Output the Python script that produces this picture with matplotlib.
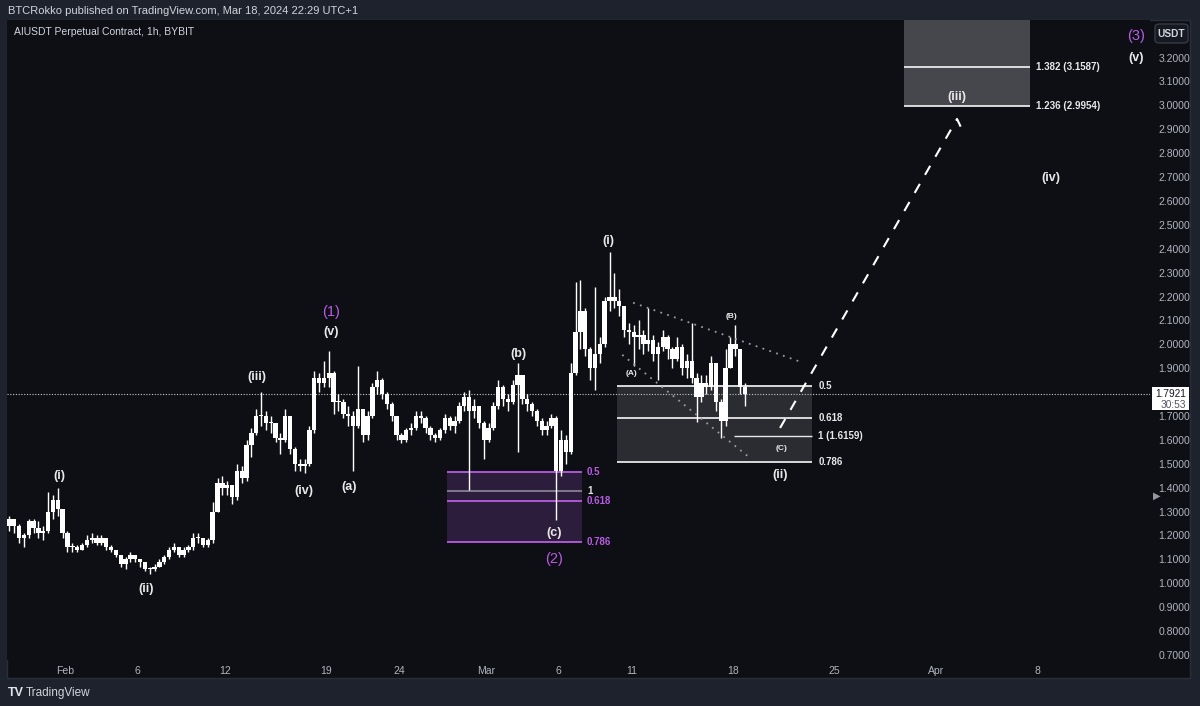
import numpy as np
import pandas as pd
import matplotlib
matplotlib.use("Agg")
import matplotlib.pyplot as plt
from matplotlib.patches import Rectangle, FancyBboxPatch

plt.rcParams['font.family'] = ['Liberation Sans', 'DejaVu Sans']

first_open = 1.24
closes = [1.27, 1.24, 1.19, 1.20, 1.26, 1.23, 1.21, 1.22, 1.30, 1.35,
          1.31, 1.21, 1.15, 1.15, 1.14, 1.16, 1.18, 1.19, 1.17, 1.19,
          1.15, 1.14, 1.12, 1.08, 1.10, 1.12, 1.10, 1.09, 1.06, 1.06,
          1.07, 1.09, 1.11, 1.14, 1.15, 1.12, 1.14, 1.15, 1.19, 1.19,
          1.16, 1.18, 1.30, 1.42, 1.40, 1.41, 1.36, 1.47, 1.44, 1.58,
          1.63, 1.70, 1.70, 1.67, 1.67, 1.61, 1.60, 1.70, 1.56, 1.50,
          1.49, 1.50, 1.64, 1.86, 1.84, 1.86, 1.88, 1.76, 1.76, 1.71,
          1.70, 1.66, 1.73, 1.62, 1.70, 1.82, 1.85, 1.79, 1.75, 1.70,
          1.62, 1.60, 1.64, 1.65, 1.70, 1.69, 1.65, 1.62, 1.61, 1.64,
          1.69, 1.66, 1.68, 1.74, 1.78, 1.72, 1.74, 1.67, 1.60, 1.65,
          1.74, 1.82, 1.77, 1.76, 1.83, 1.87, 1.77, 1.75, 1.72, 1.68,
          1.64, 1.66, 1.69, 1.47, 1.60, 1.55, 1.88, 2.05, 2.14, 1.98,
          1.90, 1.96, 2.00, 2.18, 2.20, 2.18, 2.16, 2.06, 2.05, 2.03,
          2.04, 2.00, 2.02, 1.96, 1.99, 2.03, 1.98, 1.94, 1.99, 1.90,
          1.93, 1.86, 1.78, 1.84, 1.82, 1.92, 1.76, 1.68, 1.90, 2.00,
          1.98, 1.82, 1.7921]
highs = [1.28, 1.27, 1.25, 1.21, 1.27, 1.27, 1.26, 1.24, 1.38, 1.37,
         1.40, 1.31, 1.22, 1.17, 1.16, 1.17, 1.20, 1.21, 1.20, 1.20,
         1.19, 1.16, 1.14, 1.12, 1.11, 1.13, 1.12, 1.10, 1.09, 1.07,
         1.08, 1.10, 1.12, 1.15, 1.17, 1.15, 1.15, 1.16, 1.21, 1.21,
         1.19, 1.19, 1.34, 1.44, 1.45, 1.43, 1.41, 1.50, 1.49, 1.60,
         1.65, 1.73, 1.80, 1.72, 1.70, 1.67, 1.63, 1.73, 1.70, 1.57,
         1.52, 1.52, 1.66, 1.89, 1.88, 1.93, 1.97, 1.89, 1.79, 1.77,
         1.74, 1.72, 1.91, 1.73, 1.72, 1.84, 1.89, 1.86, 1.80, 1.76,
         1.70, 1.63, 1.65, 1.67, 1.72, 1.72, 1.70, 1.66, 1.63, 1.65,
         1.71, 1.70, 1.70, 1.76, 1.80, 1.81, 1.77, 1.74, 1.68, 1.67,
         1.76, 1.85, 1.83, 1.79, 1.85, 1.92, 1.87, 1.79, 1.76, 1.73,
         1.69, 1.68, 1.71, 1.70, 1.64, 1.62, 1.92, 2.26, 2.27, 2.15,
         1.99, 2.24, 2.03, 2.20, 2.386, 2.30, 2.23, 2.16, 2.09, 2.08,
         2.10, 2.06, 2.15, 2.04, 2.01, 2.06, 2.04, 1.99, 2.03, 2.00,
         1.96, 2.09, 1.88, 1.87, 1.87, 1.95, 1.92, 1.77, 1.98, 2.03,
         2.08, 1.98, 1.84]
lows = [1.22, 1.21, 1.17, 1.15, 1.19, 1.21, 1.19, 1.18, 1.21, 1.27,
        1.28, 1.19, 1.13, 1.13, 1.13, 1.14, 1.15, 1.17, 1.16, 1.16,
        1.14, 1.13, 1.11, 1.07, 1.06, 1.09, 1.09, 1.07, 1.05, 1.04,
        1.05, 1.07, 1.08, 1.10, 1.13, 1.11, 1.11, 1.13, 1.14, 1.17,
        1.15, 1.15, 1.17, 1.30, 1.37, 1.37, 1.33, 1.35, 1.42, 1.43,
        1.53, 1.62, 1.66, 1.64, 1.63, 1.59, 1.54, 1.59, 1.54, 1.47,
        1.47, 1.46, 1.49, 1.63, 1.80, 1.82, 1.82, 1.71, 1.72, 1.69,
        1.66, 1.47, 1.65, 1.59, 1.60, 1.69, 1.79, 1.77, 1.73, 1.68,
        1.60, 1.585, 1.59, 1.62, 1.64, 1.67, 1.63, 1.60, 1.59, 1.60,
        1.63, 1.64, 1.63, 1.67, 1.72, 1.39, 1.69, 1.65, 1.52, 1.59,
        1.64, 1.73, 1.74, 1.72, 1.75, 1.55, 1.75, 1.72, 1.70, 1.66,
        1.62, 1.62, 1.65, 1.265, 1.45, 1.50, 1.54, 1.87, 1.98, 1.95,
        1.85, 1.81, 1.92, 1.99, 2.14, 2.15, 2.12, 2.03, 2.00, 1.91,
        1.98, 1.96, 1.97, 1.93, 1.85, 1.97, 1.94, 1.90, 1.93, 1.87,
        1.86, 1.84, 1.675, 1.76, 1.79, 1.81, 1.72, 1.61, 1.66, 1.90,
        1.95, 1.79, 1.74]
last_price = 1.7921

# fib zones
purple_zone = ("2024-02-27 08:00", "2024-03-07 15:00")
purple_levels = [("0.5", 1.467), ("0.618", 1.344), ("0.786", 1.174)]
purple_one = ("1", 1.387)
grey_zone = ("2024-03-10 00:00", "2024-03-23 11:00")
grey_levels = [("0.5", 1.8246), ("0.618", 1.692), ("0.786", 1.5069)]
grey_c = ("2024-03-18 02:00", "1 (1.6159)", 1.6159)
top_zone = ("2024-03-29 19:00", "2024-04-07 11:00")
top_levels = [("1.236 (2.9954)", 2.9954), ("1.382 (3.1587)", 3.1587)]

upper_trend = [("2024-03-11 03:00", 2.174), ("2024-03-22 20:00", 1.923)]
lower_trend = [("2024-03-10 09:00", 1.956), ("2024-03-19 04:00", 1.525)]
projection = [("2024-03-21 06:00", 1.650), ("2024-04-02 10:30", 2.943), ("2024-04-02 19:00", 2.897)]

wave_labels = [("(i)", "2024-01-31 14:00", 1.449), ("(ii)", "2024-02-06 14:00", 0.977),
               ("(iii)", "2024-02-14 05:30", 1.864), ("(iv)", "2024-02-17 10:00", 1.386),
               ("(v)", "2024-02-19 08:00", 2.052), ("(a)", "2024-02-20 13:30", 1.403),
               ("(b)", "2024-03-03 06:00", 1.959), ("(c)", "2024-03-05 16:00", 1.210),
               ("(i)", "2024-03-09 10:00", 2.432), ("(ii)", "2024-03-21 06:00", 1.453),
               ("(iii)", "2024-04-02 10:30", 3.035), ("(iv)", "2024-04-08 22:00", 2.696),
               ("(v)", "2024-04-14 18:30", 3.198)]
small_labels = [("(A)", "2024-03-11 00:00", 1.876), ("(B)", "2024-03-17 22:30", 2.118),
                ("(C)", "2024-03-21 07:40", 1.566)]
degree_labels = [("(1)", "2024-02-19 08:00", 2.135), ("(2)", "2024-03-05 16:00", 1.102),
                 ("(3)", "2024-04-14 18:30", 3.290)]

tick_dates = ["2024-02-01", "2024-02-06", "2024-02-12", "2024-02-19", "2024-02-24", "2024-03-01",
              "2024-03-06", "2024-03-11", "2024-03-18", "2024-03-25", "2024-04-01", "2024-04-08"]
tick_names = ["Feb", "6", "12", "19", "24", "Mar", "6", "11", "18", "25", "Apr", "8"]
price_ticks = [0.7, 0.8, 0.9, 1.0, 1.1, 1.2, 1.3, 1.4, 1.5, 1.6, 1.7, 1.9,
               2.0, 2.1, 2.2, 2.3, 2.4, 2.5, 2.6, 2.7, 2.8, 2.9, 3.0, 3.1, 3.2]  # 1.8 sits under the price tag

OUTER = "#1e222c"
PANEL = "#0d0f15"
PURPLE = "#b95ce3"
AXIS_TXT = "#b2b5be"

fig = plt.figure(figsize=(12, 7.06), dpi=100, facecolor=OUTER)

def fx(x):
    return x / 1200

def fy(y):
    return 1 - y / 706

# panel behind chart + price axis
fig.patches.append(Rectangle((fx(7), fy(678)), fx(1190) - fx(7), fy(20) - fy(678),
                             transform=fig.transFigure, facecolor=PANEL, edgecolor="#2a2e39",
                             lw=1, zorder=-5))

ax = fig.add_axes([fx(7), fy(660), fx(1150) - fx(7), fy(20) - fy(660)])
ax.set_facecolor(PANEL)
for s in ax.spines.values():
    s.set_visible(False)

T = pd.to_datetime
times = pd.date_range("2024-01-28 00:00", periods=len(closes), freq="8h") + pd.Timedelta(hours=4)
opens = [first_open] + closes[:-1]
body_low = np.minimum(opens, closes)
body_h = np.maximum(np.abs(np.array(closes) - np.array(opens)), 0.004)

# zones first so candles sit on top
ax.add_patch(Rectangle((T(purple_zone[0]), purple_levels[2][1]),
                       T(purple_zone[1]) - T(purple_zone[0]), purple_levels[0][1] - purple_levels[2][1],
                       facecolor="#2b1d3b", edgecolor="none", zorder=1))
for name, v in purple_levels:
    ax.hlines(v, T(purple_zone[0]), T(purple_zone[1]), color=PURPLE, lw=1.3, zorder=2)
    ax.text(T("2024-03-07 23:00"), v, name, color=PURPLE, fontsize=7, fontweight="bold", va="center", zorder=5)
ax.hlines(purple_one[1], T(purple_zone[0]), T(purple_zone[1]), color="#8d8a98", lw=1.2, zorder=2)
ax.text(T("2024-03-07 23:00"), purple_one[1], purple_one[0], color="#e6e6e6", fontsize=7,
        fontweight="bold", va="center", zorder=5)

ax.add_patch(Rectangle((T(grey_zone[0]), grey_levels[2][1]),
                       T(grey_zone[1]) - T(grey_zone[0]), grey_levels[0][1] - grey_levels[2][1],
                       facecolor="#2a2c32", edgecolor="none", zorder=1))
for name, v in grey_levels:
    ax.hlines(v, T(grey_zone[0]), T(grey_zone[1]), color="#e8e8e8", lw=1.3, zorder=2)
    ax.text(T("2024-03-23 21:00"), v, name, color="#e8e8e8", fontsize=7, fontweight="bold", va="center")
ax.hlines(grey_c[2], T(grey_c[0]), T(grey_zone[1]), color="#e8e8e8", lw=1.0, zorder=2)
ax.text(T("2024-03-23 21:00"), grey_c[2], grey_c[1], color="#e8e8e8", fontsize=7, fontweight="bold", va="center")

ax.add_patch(Rectangle((T(top_zone[0]), top_levels[0][1]),
                       T(top_zone[1]) - T(top_zone[0]), 3.5 - top_levels[0][1],
                       facecolor="#46474c", edgecolor="none", zorder=1))
for name, v in top_levels:
    ax.hlines(v, T(top_zone[0]), T(top_zone[1]), color="#e8e8e8", lw=1.3, zorder=2)
    ax.text(T("2024-04-07 21:00"), v, name, color="#e8e8e8", fontsize=7, fontweight="bold", va="center")

# last price line
ax.axhline(last_price, color="#c9c9c9", lw=0.8, ls=(0, (1, 1.5)), zorder=2)

# candles (all white, like the published chart)
ax.vlines(times, lows, highs, color="white", lw=1.0, zorder=3)
ax.bar(times, body_h, bottom=body_low, width=0.3, color="white", lw=0, zorder=3)

# trend lines and projected path
for line in (upper_trend, lower_trend):
    ax.plot([T(d) for d, _ in line], [v for _, v in line], color="#9a9ba0", lw=1.3,
            ls=(0, (1, 3)), zorder=4)
ax.plot([T(d) for d, _ in projection], [v for _, v in projection], color="white", lw=1.5,
        ls=(0, (5, 5)), zorder=4)

for name, d, v in wave_labels:
    ax.text(T(d), v, name, color="#e9e9e9", fontsize=9, fontweight="bold", ha="center", va="center", zorder=6)
for name, d, v in small_labels:
    ax.text(T(d), v, name, color="#e9e9e9", fontsize=6, fontweight="bold", ha="center", va="center", zorder=6)
for name, d, v in degree_labels:
    ax.text(T(d), v, name, color=PURPLE, fontsize=10.5, ha="center", va="center", zorder=6)

ax.set_xlim(T("2024-01-28 00:00"), T("2024-04-15 17:30"))
ax.set_ylim(0.679, 3.357)
ax.set_xticks([T(d) for d in tick_dates])
ax.set_xticklabels(tick_names)
ax.set_yticks(price_ticks)
ax.set_yticklabels([f"{v:.4f}" for v in price_ticks])
ax.yaxis.tick_right()
ax.tick_params(axis="x", length=0, pad=4, labelsize=7.5, labelcolor=AXIS_TXT)
ax.tick_params(axis="y", length=0, pad=6, labelsize=7.5, labelcolor=AXIS_TXT)

# price tag on the axis
fig.patches.append(Rectangle((fx(1152), fy(410)), fx(1189) - fx(1152), fy(387) - fy(410),
                             transform=fig.transFigure, facecolor="white", edgecolor="none", zorder=5))
fig.text(fx(1186), fy(394), "1.7921", color="#131722", fontsize=7.3, ha="right", va="center", zorder=6)
fig.text(fx(1186), fy(405), "30:53", color="#50535e", fontsize=7.3, ha="right", va="center", zorder=6)

# currency button
fig.patches.append(FancyBboxPatch((fx(1155), fy(43)), fx(1188) - fx(1155), fy(24) - fy(43),
                                  boxstyle="round,pad=0,rounding_size=0.004", transform=fig.transFigure,
                                  facecolor="#161922", edgecolor="#363a45", lw=1))
fig.text(fx(1171.5), fy(34), "USDT", color="#d1d4dc", fontsize=7.3, fontweight="bold", ha="center", va="center")
fig.text(fx(1153), fy(496), "\u25b6", color="#9598a1", fontsize=7, ha="left", va="center")

# header / footer
fig.text(fx(8), fy(11), "BTCRokko published on TradingView.com, Mar 18, 2024 22:29 UTC+1",
         color="#d1d4dc", fontsize=8, va="center")
fig.text(fx(14), fy(32), "AIUSDT Perpetual Contract, 1h, BYBIT", color="#d1d4dc", fontsize=7.5, va="center")
fig.text(fx(8), fy(693), "TV", color="#e0e3eb", fontsize=9, fontweight="bold", va="center")
fig.text(fx(26), fy(693), "TradingView", color="#d1d4dc", fontsize=8.5, va="center")

fig.savefig("out.png", dpi=100, facecolor=OUTER)
